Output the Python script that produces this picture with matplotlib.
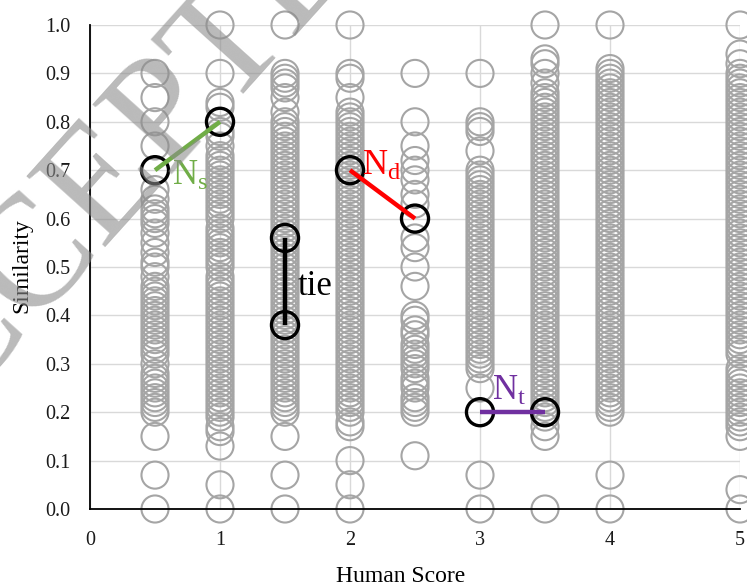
import matplotlib
matplotlib.use("Agg")
import matplotlib.pyplot as plt

plt.rcParams['font.family'] = ['Liberation Serif', 'DejaVu Serif']
plt.rcParams['mathtext.fontset'] = 'custom'
plt.rcParams['mathtext.rm'] = 'Liberation Serif'

# ---- data: human score columns and similarity values ----
x_scores = [0.5, 1.0, 1.5, 2.0, 2.5, 3.0, 3.5, 4.0, 5.0]

sim_05 = [0.0, 0.07, 0.15, 0.2, 0.21, 0.22, 0.23, 0.24, 0.25, 0.26, 0.27, 0.28,
          0.3, 0.32, 0.33, 0.34, 0.35, 0.36, 0.37, 0.38, 0.39, 0.4, 0.41, 0.42,
          0.43, 0.44, 0.45, 0.46, 0.48, 0.5, 0.51, 0.53, 0.55, 0.57, 0.59, 0.6,
          0.61, 0.62, 0.64, 0.66, 0.75, 0.8, 0.85, 0.9]
sim_10 = [0.0, 0.05, 0.13, 0.16, 0.17, 0.19, 0.2, 0.21, 0.22, 0.23, 0.24, 0.25,
          0.26, 0.27, 0.28, 0.29, 0.3, 0.31, 0.32, 0.33, 0.34, 0.35, 0.36, 0.37,
          0.38, 0.39, 0.4, 0.41, 0.42, 0.43, 0.44, 0.45, 0.46, 0.47, 0.48, 0.5,
          0.51, 0.52, 0.53, 0.54, 0.55, 0.56, 0.57, 0.58, 0.6, 0.61, 0.62, 0.63,
          0.64, 0.65, 0.66, 0.67, 0.68, 0.69, 0.7, 0.71, 0.72, 0.73, 0.75, 0.77,
          0.78, 0.83, 0.84, 0.9, 1.0]
sim_15 = [0.0, 0.07, 0.15, 0.2, 0.21, 0.22, 0.23, 0.24, 0.25, 0.26, 0.27, 0.28,
          0.29, 0.3, 0.31, 0.32, 0.33, 0.34, 0.35, 0.36, 0.37, 0.39, 0.4, 0.41,
          0.42, 0.43, 0.44, 0.45, 0.46, 0.47, 0.48, 0.49, 0.5, 0.51, 0.52, 0.53,
          0.54, 0.55, 0.57, 0.58, 0.59, 0.6, 0.61, 0.62, 0.63, 0.64, 0.65, 0.66,
          0.67, 0.68, 0.69, 0.7, 0.71, 0.72, 0.73, 0.74, 0.75, 0.76, 0.77, 0.78,
          0.79, 0.8, 0.82, 0.85, 0.87, 0.88, 0.89, 0.9, 1.0]
sim_20 = [0.0, 0.05, 0.1, 0.17, 0.18, 0.2, 0.21, 0.22, 0.23, 0.24, 0.25, 0.26,
          0.27, 0.28, 0.29, 0.3, 0.31, 0.32, 0.33, 0.34, 0.35, 0.36, 0.37, 0.38,
          0.39, 0.4, 0.41, 0.42, 0.43, 0.44, 0.45, 0.46, 0.47, 0.48, 0.49, 0.5,
          0.51, 0.52, 0.53, 0.54, 0.55, 0.56, 0.57, 0.58, 0.59, 0.6, 0.61, 0.62,
          0.63, 0.64, 0.65, 0.66, 0.67, 0.68, 0.69, 0.71, 0.72, 0.73, 0.74, 0.75,
          0.76, 0.77, 0.78, 0.79, 0.8, 0.81, 0.82, 0.85, 0.89, 0.9, 1.0]
sim_25 = [0.11, 0.2, 0.21, 0.22, 0.23, 0.25, 0.26, 0.27, 0.29, 0.3, 0.31, 0.32,
          0.33, 0.34, 0.36, 0.37, 0.39, 0.4, 0.46, 0.5, 0.54, 0.56, 0.63, 0.65,
          0.68, 0.7, 0.72, 0.75, 0.8, 0.9]
sim_30 = [0.0, 0.07, 0.25, 0.29, 0.3, 0.31, 0.32, 0.33, 0.34, 0.35, 0.36, 0.37,
          0.38, 0.39, 0.4, 0.41, 0.42, 0.43, 0.44, 0.45, 0.46, 0.47, 0.48, 0.49,
          0.5, 0.51, 0.52, 0.53, 0.54, 0.55, 0.56, 0.57, 0.58, 0.59, 0.6, 0.61,
          0.62, 0.63, 0.64, 0.65, 0.66, 0.67, 0.68, 0.69, 0.7, 0.74, 0.78, 0.79,
          0.8, 0.9]
sim_35 = [0.0, 0.15, 0.17, 0.19, 0.21, 0.22, 0.23, 0.24, 0.25, 0.26, 0.27, 0.28,
          0.29, 0.3, 0.31, 0.32, 0.33, 0.34, 0.35, 0.36, 0.37, 0.38, 0.39, 0.4,
          0.41, 0.42, 0.43, 0.44, 0.45, 0.46, 0.47, 0.48, 0.49, 0.5, 0.51, 0.52,
          0.53, 0.54, 0.55, 0.56, 0.57, 0.58, 0.59, 0.6, 0.61, 0.62, 0.63, 0.64,
          0.65, 0.66, 0.67, 0.68, 0.69, 0.7, 0.71, 0.72, 0.73, 0.74, 0.75, 0.76,
          0.77, 0.78, 0.79, 0.8, 0.81, 0.82, 0.83, 0.84, 0.85, 0.86, 0.88, 0.9,
          0.92, 0.93, 1.0]
sim_40 = [0.0, 0.07, 0.2, 0.21, 0.22, 0.23, 0.24, 0.25, 0.26, 0.27, 0.28, 0.29,
          0.3, 0.31, 0.32, 0.33, 0.34, 0.35, 0.36, 0.37, 0.38, 0.39, 0.4, 0.41,
          0.42, 0.43, 0.44, 0.45, 0.46, 0.47, 0.48, 0.49, 0.5, 0.51, 0.52, 0.53,
          0.54, 0.55, 0.56, 0.57, 0.58, 0.59, 0.6, 0.61, 0.62, 0.63, 0.64, 0.65,
          0.66, 0.67, 0.68, 0.69, 0.7, 0.71, 0.72, 0.73, 0.74, 0.75, 0.76, 0.77,
          0.78, 0.79, 0.8, 0.81, 0.82, 0.83, 0.84, 0.85, 0.86, 0.87, 0.88, 0.89,
          0.9, 0.91, 1.0]
sim_50 = [0.0, 0.04, 0.15, 0.17, 0.18, 0.19, 0.2, 0.21, 0.22, 0.23, 0.24, 0.25,
          0.26, 0.27, 0.28, 0.29, 0.32, 0.33, 0.34, 0.35, 0.36, 0.37, 0.38, 0.39,
          0.4, 0.41, 0.42, 0.43, 0.44, 0.45, 0.46, 0.47, 0.48, 0.49, 0.5, 0.51,
          0.52, 0.53, 0.54, 0.55, 0.56, 0.57, 0.58, 0.59, 0.6, 0.61, 0.62, 0.63,
          0.64, 0.65, 0.66, 0.67, 0.68, 0.69, 0.7, 0.71, 0.72, 0.73, 0.74, 0.75,
          0.76, 0.77, 0.78, 0.79, 0.8, 0.81, 0.82, 0.83, 0.84, 0.85, 0.86, 0.87,
          0.88, 0.89, 0.9, 0.92, 0.94, 1.0]
columns = [sim_05, sim_10, sim_15, sim_20, sim_25, sim_30, sim_35, sim_40, sim_50]

# highlighted pairs: (x1, y1, x2, y2)
pair_s = (0.5, 0.7, 1.0, 0.8)
pair_d = (2.0, 0.7, 2.5, 0.6)
pair_tie = (1.5, 0.56, 1.5, 0.38)
pair_t = (3.0, 0.2, 3.5, 0.2)

x_ticks = [0, 1, 2, 3, 4, 5]
y_ticks = [0.0, 0.1, 0.2, 0.3, 0.4, 0.5, 0.6, 0.7, 0.8, 0.9, 1.0]

# ---- figure ----
fig = plt.figure(figsize=(7.47, 5.87), dpi=100)
ax = fig.add_axes([90/747, 1 - 509/587, 650/747, 484/587])

gray = '#a5a5a5'
for xs, ys in zip(x_scores, columns):
    ax.scatter([xs]*len(ys), ys, s=380, facecolors='none', edgecolors=gray,
               linewidths=1.5, clip_on=False, zorder=2)

pairs = [(pair_s, '#70ad47'), (pair_d, '#ff0000'), (pair_tie, '#000000'), (pair_t, '#7030a0')]
for (x1, y1, x2, y2), col in pairs:
    ax.scatter([x1, x2], [y1, y2], s=380, facecolors='none', edgecolors='black',
               linewidths=2.4, clip_on=False, zorder=3)
    ax.plot([x1, x2], [y1, y2], color=col, lw=3.2, solid_capstyle='butt', zorder=4)

ax.text(0.63, 0.669, r'$\mathregular{N_s}$', color='#70ad47', fontsize=25, ha='left', va='baseline', zorder=5)
ax.text(2.09, 0.69, r'$\mathregular{N_d}$', color='#ff0000', fontsize=25, ha='left', va='baseline', zorder=5)
ax.text(3.09, 0.225, r'$\mathregular{N_t}$', color='#7030a0', fontsize=25, ha='left', va='baseline', zorder=5)
ax.text(1.6, 0.442, 'tie', color='black', fontsize=25, ha='left', va='baseline', zorder=5)

ax.set_xlim(0, 5)
ax.set_ylim(0, 1)
ax.set_xticks(x_ticks)
ax.set_xticklabels([str(v) for v in x_ticks])
ax.set_yticks(y_ticks)
ax.set_yticklabels([f'{v:.1f}' for v in y_ticks])
ax.tick_params(length=0, labelsize=14.5, labelcolor='#1a1a1a')
ax.tick_params(axis='x', pad=16)
ax.tick_params(axis='y', pad=14)

ax.grid(True, color='#d9d9d9', lw=1.0)
ax.set_axisbelow(True)
for side in ['top', 'right']:
    ax.spines[side].set_visible(False)
for side in ['left', 'bottom']:
    ax.spines[side].set_color('black')
    ax.spines[side].set_linewidth(1.3)
    ax.spines[side].set_zorder(2.5)

ax.set_xlabel('Human Score', fontsize=17)
ax.xaxis.set_label_coords(0.478, -0.118)
ax.set_ylabel('Similarity', fontsize=17)
ax.yaxis.set_label_coords(-0.089, 0.504)

# watermark
fig.text(130/747, 1 - 160/587, 'ACCEPTED', fontsize=115, color='#8c8c8c', alpha=0.6,
         rotation=48, ha='center', va='center', zorder=10)

fig.savefig('out.png', dpi=100)
